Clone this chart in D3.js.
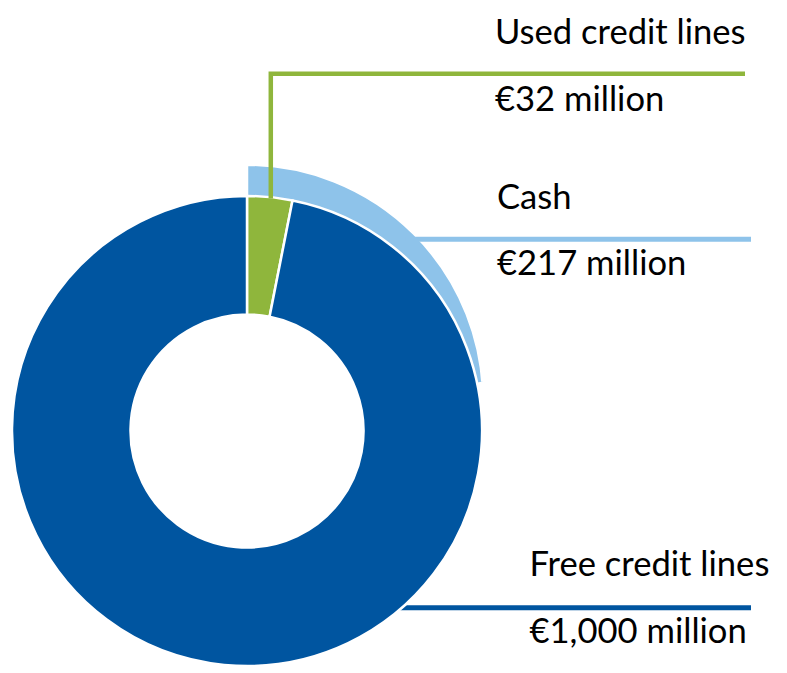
<!DOCTYPE html>
<html>
<head>
<meta charset="utf-8">
<script src="https://cdn.jsdelivr.net/npm/d3@7"></script>
<style>
  html, body { margin: 0; padding: 0; background: #fff; }
  svg { display: block; }
</style>
</head>
<body>
<svg id="chart" width="787" height="673"></svg>
<script>
// ---- data ----
const ringCategories = ["Used credit lines", "Free credit lines"];
const ringValues = [32, 1000];
const cashCategory = "Cash";
const cashValue = 217;
const labelNames = ["Used credit lines", "Cash", "Free credit lines"];
const labelValues = ["€32 million", "€217 million", "€1,000 million"];

// ---- style ----
const colors = { used: "#8FB63C", free: "#0055A0", cash: "#8EC3EA" };
const fontFamily = "Lato, 'Open Sans', sans-serif";

const svg = d3.select("#chart");
const cx = 247, cy = 431;
const outerR = 235, innerR = 116.5, gapW = 2.5;
const cashOffset = 30;           // cash slice is lifted upwards
const cashR = 236.25;

// inner donut layout
const pie = d3.pie().sort(null).startAngle(0).endAngle(2 * Math.PI);
const arcs = pie(ringValues);
const arc = d3.arc().innerRadius(innerR).outerRadius(outerR);

// cash slice angle, measured against free credit lines
const cashAngle = d3.scaleLinear().domain([0, ringValues[1]]).range([0, 2 * Math.PI]);

const defs = svg.append("defs");
defs.append("clipPath").attr("id", "cashClip")
  .append("path")
  .attr("transform", `translate(${cx},${cy})`)
  .attr("d", d3.arc().innerRadius(outerR - 20).outerRadius(400)({ startAngle: cashAngle(0), endAngle: cashAngle(cashValue) }));

// cash slice
svg.append("g").attr("clip-path", "url(#cashClip)")
  .append("path")
  .attr("transform", `translate(${cx},${cy - cashOffset})`)
  .attr("d", d3.arc().innerRadius(0).outerRadius(cashR)({ startAngle: 0, endAngle: Math.PI }))
  .attr("fill", colors.cash)
  .attr("stroke", "#fff")
  .attr("stroke-width", gapW);

// leader lines
const lineY = { used: 73.8, cash: 239.2, free: 607.7 };
const lineEnd = { used: 745, cash: 751, free: 751 };

// cash leader starts inside the cash band
const cashEdgeX = cx + Math.sqrt(cashR * cashR - Math.pow(cy - cashOffset - lineY.cash, 2));
svg.append("line")
  .attr("x1", cashEdgeX - 14).attr("x2", lineEnd.cash)
  .attr("y1", lineY.cash).attr("y2", lineY.cash)
  .attr("stroke", colors.cash).attr("stroke-width", 5);

// free leader (behind donut)
svg.append("line")
  .attr("x1", cx).attr("x2", lineEnd.free)
  .attr("y1", lineY.free).attr("y2", lineY.free)
  .attr("stroke", colors.free).attr("stroke-width", 5);

// donut
const sliceColor = [colors.used, colors.free];
svg.append("g").attr("transform", `translate(${cx},${cy})`)
  .selectAll("path").data(arcs).join("path")
  .attr("d", arc)
  .attr("fill", (d, i) => sliceColor[i])
  .attr("stroke", "#fff")
  .attr("stroke-width", gapW)
  .attr("stroke-linejoin", "miter");

// used leader (on top)
const usedX = 270.8;
svg.append("path")
  .attr("d", `M${usedX},${cy - outerR + 2.5}V${lineY.used}H${lineEnd.used}`)
  .attr("fill", "none")
  .attr("stroke", colors.used)
  .attr("stroke-width", 4.5)
  .attr("stroke-linejoin", "miter");

// labels
const probe = svg.append("text").attr("font-family", fontFamily).attr("font-size", 100).text(labelNames[2]);
const w100 = probe.node().getComputedTextLength();
probe.remove();
const fontSize = 100 * 240 / w100;

const labelPos = [
  { x: 495, y1: 44.3, y2: 110.7 },
  { x: 497, y1: 209, y2: 275 },
  { x: 529.5, y1: 576, y2: 642.7 }
];
const lg = svg.append("g").attr("font-family", fontFamily).attr("font-size", fontSize).attr("fill", "#000");
labelNames.forEach((name, i) => {
  lg.append("text").attr("x", labelPos[i].x).attr("y", labelPos[i].y1).text(name);
  lg.append("text").attr("x", labelPos[i].x).attr("y", labelPos[i].y2).text(labelValues[i]);
});
</script>
</body>
</html>
